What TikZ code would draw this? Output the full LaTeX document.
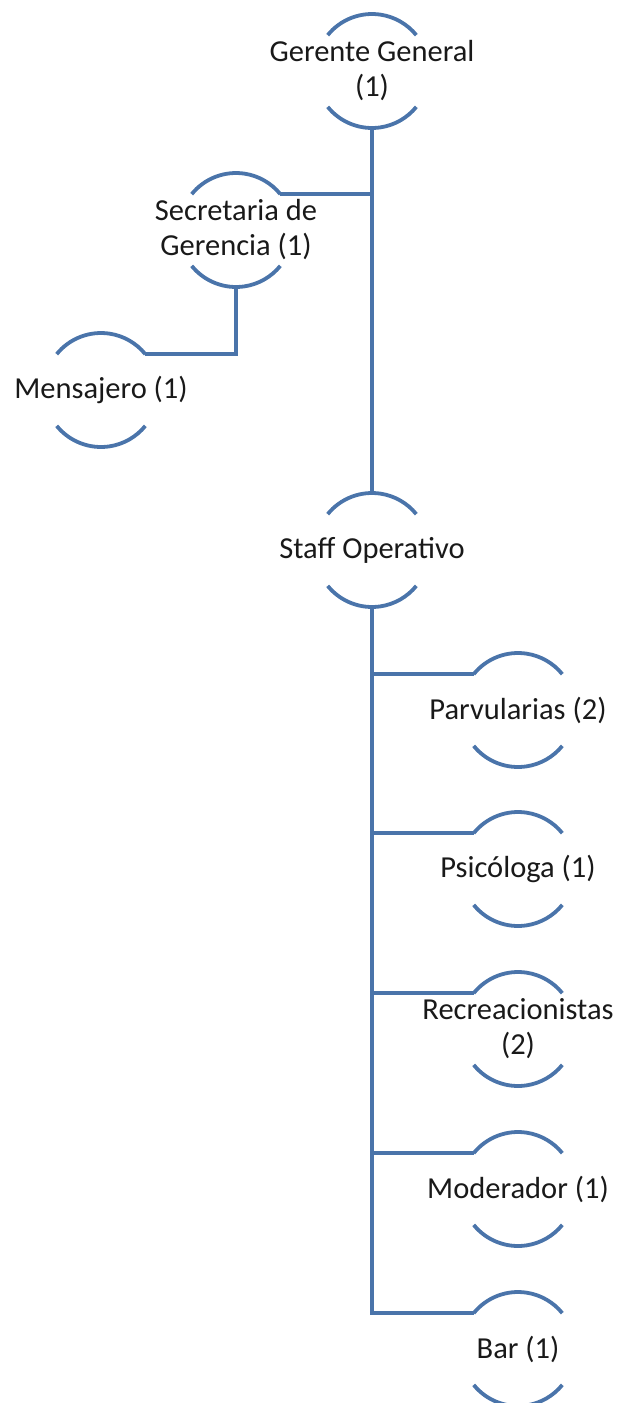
\documentclass[tikz,border=0pt]{standalone}
\usepackage{fontspec}
\setmainfont{Carlito}
\definecolor{orgblue}{RGB}{74,116,170}
\newcommand\orgarcs[1]{%
  \draw[arcline] ([shift={(141:57)}]#1.center) arc[start angle=141,end angle=39,radius=57];
  \draw[arcline] ([shift={(219:57)}]#1.center) arc[start angle=219,end angle=321,radius=57];
  \path ([shift={(141:57)}]#1.center) coordinate (#1-tl)
        ([shift={(39:57)}]#1.center) coordinate (#1-tr)
        ([shift={(90:57)}]#1.center) coordinate (#1-top)
        ([shift={(270:57)}]#1.center) coordinate (#1-bot);}
\begin{document}
\begin{tikzpicture}[x=1pt,y=1pt,
  lbl/.style={font=\fontsize{30.5}{35}\selectfont, text=black!90, align=center, inner sep=0pt},
  arcline/.style={draw=orgblue, line width=3.8pt},
  conn/.style={draw=orgblue, line width=4.5pt}]
\useasboundingbox (0,0) rectangle (623,-1403);
% nodes
\node[lbl] (gg)    at (372,-71)   {Gerente General\\(1)};
\node[lbl] (sec)   at (236,-230)  {Secretaria de\\Gerencia (1)};
\node[lbl] (mens)  at (101,-390)  {Mensajero (1)};
\node[lbl] (staff) at (372,-550)  {Staff Operativo};
\node[lbl] (parv)  at (518,-710)  {Parvularias (2)};
\node[lbl] (psi)   at (518,-869)  {Psicóloga (1)};
\node[lbl] (rec)   at (518,-1029) {Recreacionistas\\(2)};
\node[lbl] (mod)   at (518,-1189) {Moderador (1)};
\node[lbl] (bar)   at (518,-1349) {Bar (1)};
% arcs
\orgarcs{gg}\orgarcs{sec}\orgarcs{mens}\orgarcs{staff}
\orgarcs{parv}\orgarcs{psi}\orgarcs{rec}\orgarcs{mod}\orgarcs{bar}
% connectors
\draw[conn] (gg-bot) -- (staff-top);
\draw[conn] (sec-tr) -- (sec-tr -| gg.center);
\draw[conn] (sec-bot) |- (mens-tr);
\draw[conn] (staff-bot) |- (bar-tl);
\draw[conn] (parv-tl -| staff.center) -- (parv-tl);
\draw[conn] (psi-tl -| staff.center) -- (psi-tl);
\draw[conn] (rec-tl -| staff.center) -- (rec-tl);
\draw[conn] (mod-tl -| staff.center) -- (mod-tl);
\end{tikzpicture}
\end{document}
